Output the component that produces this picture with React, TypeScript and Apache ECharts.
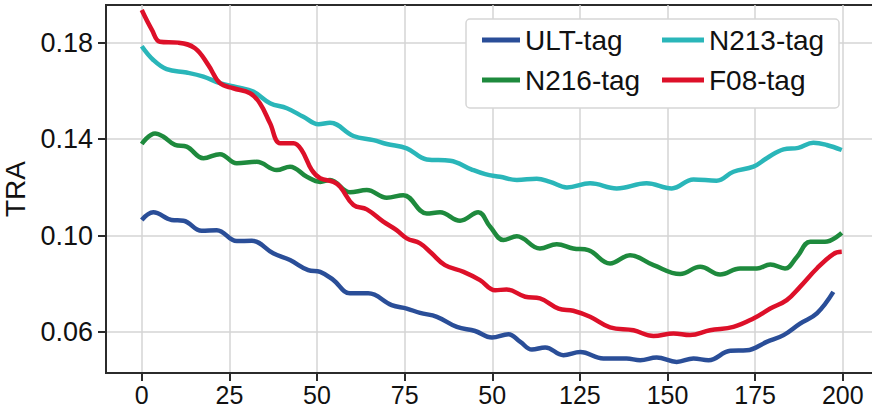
import React, { useEffect, useRef } from "react";
import * as echarts from "echarts";

const xTickValues = [0, 25, 50, 75, 100, 125, 150, 175, 200];
const xTickLabels = ["0", "25", "50", "75", "50", "125", "150", "175", "200"];
const yTickValues = [0.06, 0.1, 0.14, 0.18];
const yTickLabels = ["0.06", "0.10", "0.14", "0.18"];

const ultX = [0, 3.3, 8.5, 11.9, 17.1, 21.4, 27.1, 31.4, 37.5, 42.3, 47.5, 50.9, 54.7, 59.4, 64.6, 71.3, 75.6, 79.4, 84.2, 89.9, 95.1, 99.9, 104.6, 108, 111.3, 115.1, 120.3, 125.1, 131.7, 138.3, 142.2, 146.9, 152.6, 157.4, 161.7, 167.9, 172.6, 178.3, 183.1, 187.8, 192.6, 197.3];
const ultY = [0.1065, 0.1097, 0.1065, 0.1062, 0.102, 0.1023, 0.0978, 0.0979, 0.0927, 0.0899, 0.0857, 0.085, 0.0816, 0.0761, 0.0761, 0.0712, 0.0698, 0.068, 0.0664, 0.0622, 0.0605, 0.0578, 0.0592, 0.056, 0.0528, 0.0537, 0.0505, 0.0518, 0.0491, 0.0491, 0.0484, 0.0495, 0.0477, 0.0491, 0.0484, 0.0523, 0.0525, 0.056, 0.0588, 0.0636, 0.0678, 0.0767];

const n213X = [0, 3.3, 7.1, 12.8, 17.6, 22.3, 27.1, 31.8, 36.6, 41.4, 46.1, 50.4, 53.7, 60.4, 66.1, 69.9, 75.6, 81.3, 88, 94, 98, 102.2, 107, 112.7, 116.5, 121.3, 127.9, 135.5, 144, 151.2, 157.4, 164, 168.8, 174.5, 178.3, 183.1, 187.3, 191.6, 195.4, 199.7];
const n213Y = [0.1785, 0.1728, 0.169, 0.1676, 0.1659, 0.1632, 0.1615, 0.1597, 0.1549, 0.1528, 0.1493, 0.1462, 0.1468, 0.1413, 0.1396, 0.138, 0.1362, 0.1316, 0.1311, 0.1275, 0.1255, 0.1244, 0.1231, 0.1236, 0.1223, 0.12, 0.1217, 0.1196, 0.1217, 0.1196, 0.1233, 0.1228, 0.1265, 0.1286, 0.1321, 0.1358, 0.1364, 0.1385, 0.1376, 0.1355];

const n216X = [0, 3.8, 6.2, 9.5, 12.8, 17.6, 22.3, 27.1, 32.8, 38.5, 42.3, 47.1, 50.9, 53.7, 59.4, 64.2, 69.9, 74.6, 81.3, 85.1, 90.8, 96, 99.4, 103.2, 107, 113.6, 118.4, 123.1, 127.4, 133.6, 139.3, 146, 153.6, 159.3, 165, 170.7, 175.5, 179.3, 183.5, 186.9, 190.7, 194.9, 199.7];
const n216Y = [0.138, 0.1424, 0.141, 0.1376, 0.1369, 0.1321, 0.1338, 0.13, 0.1306, 0.1272, 0.1286, 0.1244, 0.1223, 0.1231, 0.118, 0.1189, 0.1157, 0.1168, 0.1092, 0.1097, 0.1062, 0.1097, 0.1037, 0.0982, 0.0998, 0.0947, 0.0965, 0.0947, 0.094, 0.0885, 0.0919, 0.0878, 0.0841, 0.0871, 0.0839, 0.0864, 0.0864, 0.0881, 0.0864, 0.0912, 0.0975, 0.0975, 0.1012];

const f08X = [0, 2.9, 5.2, 10.4, 15.2, 19, 22.3, 26.1, 30.9, 33.7, 36.6, 39.5, 43.3, 45.6, 48.5, 50.9, 54.7, 56.6, 60.4, 64.2, 68.9, 72.7, 75.6, 79.4, 82.7, 86.5, 91.8, 96.5, 100.8, 104.1, 109.4, 113.6, 118.9, 123.1, 127.9, 133.6, 140.3, 146, 151.7, 156.4, 162.1, 168.8, 174.5, 179.3, 184, 187.8, 192.6, 197.3, 199.7];
const f08Y = [0.1935, 0.1853, 0.1804, 0.18, 0.1777, 0.1707, 0.1632, 0.1611, 0.159, 0.1549, 0.1466, 0.1383, 0.1383, 0.1355, 0.1272, 0.1238, 0.1223, 0.1203, 0.1127, 0.1109, 0.1058, 0.1023, 0.0989, 0.0968, 0.0927, 0.0878, 0.085, 0.0816, 0.0774, 0.0777, 0.0747, 0.074, 0.0698, 0.0689, 0.0664, 0.062, 0.0608, 0.0584, 0.0595, 0.0588, 0.0608, 0.0622, 0.0657, 0.0698, 0.0733, 0.0788, 0.0864, 0.0924, 0.0933];

const FONT = "'Liberation Sans', Arial, sans-serif";
const TEXT = "#111111";

function pairs(xs: number[], ys: number[]) {
  return xs.map((x, i) => [x, ys[i]]);
}

export default function App() {
  const ref = useRef<HTMLDivElement>(null);
  useEffect(() => {
    if (!ref.current) return;
    const chart = echarts.init(ref.current, undefined, { renderer: "svg" });
    const mk = (name: string, color: string, xs: number[], ys: number[]) => ({
      name,
      type: "line",
      data: pairs(xs, ys),
      smooth: 0.4,
      showSymbol: false,
      symbol: "none",
      lineStyle: { color, width: 4.5 },
      itemStyle: { color },
    });
    const legendText = {
      fontFamily: FONT,
      fontSize: 28,
      color: TEXT,
      lineHeight: 30,
    };
    chart.setOption({
      animation: false,
      grid: {
        left: 106,
        right: -2,
        top: 5,
        bottom: 35,
        outerBoundsMode: "none",
        containLabel: false,
        show: true,
        borderColor: "#2b2b2b",
        borderWidth: 2,
        backgroundColor: "transparent",
      },
      xAxis: {
        type: "value",
        min: -10.2,
        max: 208.9,
        axisLine: { show: true, onZero: false, lineStyle: { color: "#2b2b2b", width: 2 } },
        axisTick: {
          show: true,
          length: 8,
          lineStyle: { color: "#2b2b2b", width: 2 },
          customValues: xTickValues,
        },
        axisLabel: {
          customValues: xTickValues,
          formatter: (v: number) => {
            const i = xTickValues.indexOf(Math.round(v));
            return i >= 0 ? xTickLabels[i] : "";
          },
          fontFamily: FONT,
          fontSize: 25,
          lineHeight: 25,
          color: TEXT,
          margin: 9,
        },
        splitLine: { show: true, lineStyle: { color: "#d4d4d4", width: 1.5 } },
      },
      yAxis: {
        type: "value",
        min: 0.0431,
        max: 0.1956,
        name: "TRA",
        nameLocation: "middle",
        nameGap: 67,
        nameTextStyle: { fontFamily: FONT, fontSize: 28, color: TEXT },
        axisLine: { show: true, onZero: false, lineStyle: { color: "#2b2b2b", width: 2 } },
        axisTick: {
          show: true,
          length: 8,
          lineStyle: { color: "#2b2b2b", width: 2 },
          customValues: yTickValues,
        },
        axisLabel: {
          customValues: yTickValues,
          formatter: (v: number) => {
            const i = yTickValues.findIndex((t) => Math.abs(t - v) < 1e-6);
            return i >= 0 ? yTickLabels[i] : "";
          },
          fontFamily: FONT,
          fontSize: 27,
          color: TEXT,
          margin: 13,
        },
        splitLine: { show: true, lineStyle: { color: "#d4d4d4", width: 1.5 } },
      },
      graphic: [
        {
          type: "rect",
          shape: { x: 466, y: 19, width: 373, height: 89, r: 4 },
          style: { fill: "#ffffff", stroke: "#d6d6d6", lineWidth: 1.5 },
          z: 10,
        },
      ],
      legend: [
        {
          data: ["ULT-tag", "N216-tag"],
          orient: "vertical",
          left: 477,
          top: 20,
          itemWidth: 38,
          itemHeight: 5,
          itemGap: 10,
          icon: "rect",
          textStyle: legendText,
          z: 20,
        },
        {
          data: ["N213-tag", "F08-tag"],
          orient: "vertical",
          left: 657,
          top: 20,
          itemWidth: 42,
          itemHeight: 5,
          itemGap: 10,
          icon: "rect",
          textStyle: legendText,
          z: 20,
        },
      ],
      series: [
        mk("ULT-tag", "#2a4e98", ultX, ultY),
        mk("N213-tag", "#2ab6b9", n213X, n213Y),
        mk("N216-tag", "#1e8a3d", n216X, n216Y),
        mk("F08-tag", "#dd1029", f08X, f08Y),
      ],
    });
    return () => chart.dispose();
  }, []);
  return <div ref={ref} style={{ width: 872, height: 408, position: "absolute", left: 0, top: 0 }} />;
}
